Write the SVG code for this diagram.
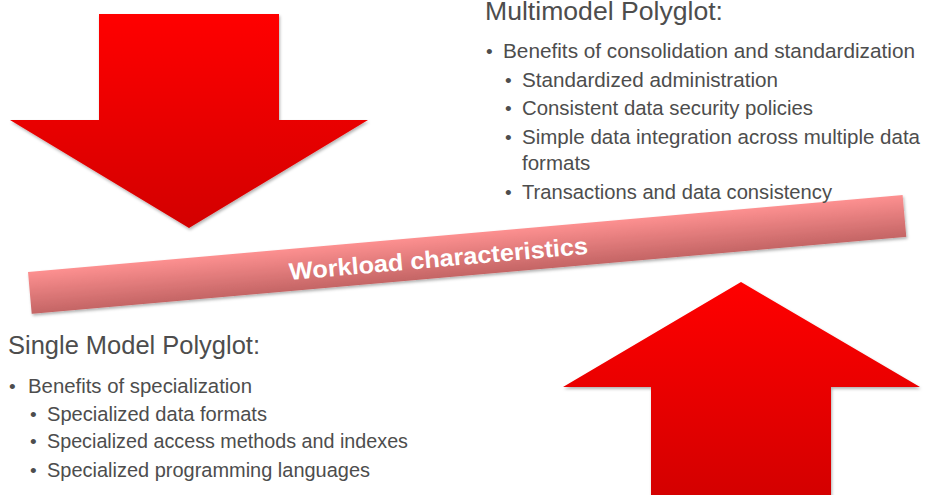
<svg xmlns="http://www.w3.org/2000/svg" width="925" height="495" viewBox="0 0 925 495">
  <defs>
    <linearGradient id="redGrad" x1="0" y1="0" x2="0" y2="1">
      <stop offset="0" stop-color="#ff0000"/>
      <stop offset="1" stop-color="#d30000"/>
    </linearGradient>
    <linearGradient id="bandGrad" x1="0" y1="0" x2="0" y2="1">
      <stop offset="0" stop-color="#fd9090"/>
      <stop offset="1" stop-color="#c46565"/>
    </linearGradient>
    <filter id="shadow" x="-10%" y="-10%" width="120%" height="130%">
      <feDropShadow dx="1" dy="2" stdDeviation="1.5" flood-color="#000" flood-opacity="0.3"/>
    </filter>
  </defs>
  <style>
    .t { font-family: "Liberation Sans", Arial, sans-serif; fill: #4d4d4d; }
    .title { font-size: 25px; }
    .body { font-size: 20.5px; }
    .bul { font-size: 19px; }
    .band-text { font-family: "Liberation Sans", Arial, sans-serif; font-weight: bold; font-size: 24px; fill: #ffffff; }
    .arrow { fill: url(#redGrad); filter: url(#shadow); }
  </style>
  <rect width="925" height="495" fill="#ffffff"/>

  <g id="down-arrow">
    <polygon class="arrow" points="99,14 279,14 279,120 368,120 189,228 10,120 99,120"/>
  </g>

  <g id="up-arrow">
    <polygon class="arrow" points="741,282 920,387 831,387 831,500 651,500 651,387 563,387"/>
  </g>

  <g id="workload-band" transform="translate(28,272) rotate(-5.03)">
    <rect x="0" y="0" width="878" height="42" fill="url(#bandGrad)" filter="url(#shadow)"/>
    <text class="band-text" x="260" y="31" textLength="300" lengthAdjust="spacingAndGlyphs">Workload characteristics</text>
  </g>

  <g id="multimodel">
    <text class="t title" x="485" y="20" textLength="238" lengthAdjust="spacingAndGlyphs">Multimodel Polyglot:</text>
    <text class="t bul" x="486" y="58">•</text>
    <text class="t body" x="503" y="58" textLength="412" lengthAdjust="spacingAndGlyphs">Benefits of consolidation and standardization</text>
    <text class="t bul" x="505" y="87">•</text>
    <text class="t body" x="522" y="87" textLength="256" lengthAdjust="spacingAndGlyphs">Standardized administration</text>
    <text class="t bul" x="505" y="115">•</text>
    <text class="t body" x="522" y="115" textLength="291" lengthAdjust="spacingAndGlyphs">Consistent data security policies</text>
    <text class="t bul" x="505" y="144">•</text>
    <text class="t body" x="522" y="144" textLength="398" lengthAdjust="spacingAndGlyphs">Simple data integration across multiple data</text>
    <text class="t body" x="522" y="170">formats</text>
    <text class="t bul" x="505" y="199">•</text>
    <text class="t body" x="522" y="199" textLength="310" lengthAdjust="spacingAndGlyphs">Transactions and data consistency</text>
  </g>

  <g id="single-model">
    <text class="t title" x="8" y="354" textLength="252" lengthAdjust="spacingAndGlyphs">Single Model Polyglot:</text>
    <text class="t bul" x="9" y="393">•</text>
    <text class="t body" x="28" y="393" textLength="224" lengthAdjust="spacingAndGlyphs">Benefits of specialization</text>
    <text class="t bul" x="30" y="421">•</text>
    <text class="t body" x="47" y="421" textLength="220" lengthAdjust="spacingAndGlyphs">Specialized data formats</text>
    <text class="t bul" x="30" y="448">•</text>
    <text class="t body" x="47" y="448" textLength="361" lengthAdjust="spacingAndGlyphs">Specialized access methods and indexes</text>
    <text class="t bul" x="30" y="477">•</text>
    <text class="t body" x="47" y="477" textLength="323" lengthAdjust="spacingAndGlyphs">Specialized programming languages</text>
  </g>
</svg>
